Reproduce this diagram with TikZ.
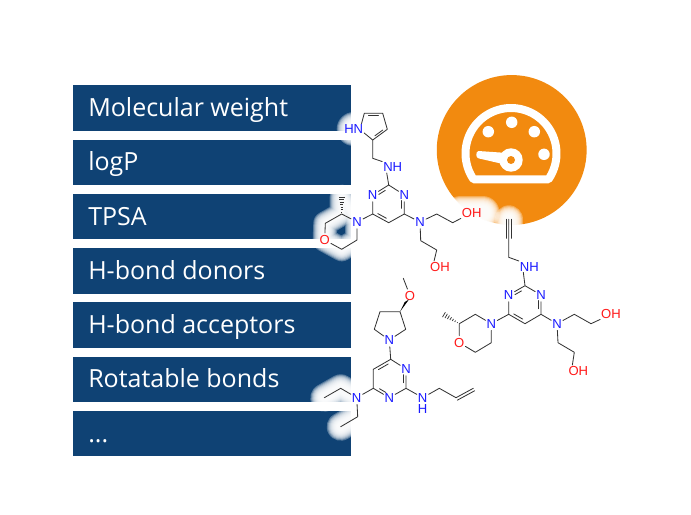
\documentclass[tikz,border=0pt]{standalone}
\usepackage{fontspec}
\usetikzlibrary{calc}
\newfontfamily\opensans{Open Sans}
\newfontfamily\atomfont{Liberation Sans}
\definecolor{boxblue}{HTML}{0F4274}
\definecolor{gaugeorange}{HTML}{F28A0F}
\definecolor{atomblue}{HTML}{1A1AFF}
\definecolor{atomred}{HTML}{FF1A1A}
\definecolor{bondgrey}{HTML}{333333}
\pgfdeclarelayer{bg}\pgfdeclarelayer{halo}
\pgfsetlayers{bg,halo,main}
\tikzset{
  x=0.75pt,y=-0.75pt,
  prop/.style={fill=boxblue,draw=none,minimum width=208.5pt,inner sep=0pt,anchor=north west},
  proplabel/.style={text=white,anchor=base west,inner sep=0pt,font=\opensans\fontsize{18.75}{20}\selectfont},
  atomN/.style={circle,inner sep=0pt,minimum size=7pt,text=atomblue,font=\atomfont\fontsize{9.8}{10}\selectfont},
  atomO/.style={atomN,text=atomred},
  group/.style={rectangle,inner sep=0.6pt,text height=7pt,text depth=0pt,font=\atomfont\fontsize{9.8}{10}\selectfont},
  bond/.style={draw=bondgrey,line width=0.62pt,line cap=round,line join=round},
  inner bond/.style={bond,shorten <=#1,shorten >=#1},
  inner bond/.default=2pt,
}
\newcommand{\halopath}[2][0]{\begin{pgfonlayer}{halo}\foreach \lw in {8,10,...,28}{\draw[white,opacity=.3,line width=(\lw+#1)*0.75pt,line cap=round,line join=round] #2;}\end{pgfonlayer}}
\newcommand{\dbl}[4][2pt]{\draw[inner bond=#1] ($(#2)!.17!(#4)$) -- ($(#3)!.17!(#4)$);}
\newcommand{\hashed}[2]{\foreach \hf/\hw in {.12/.3,.26/.6,.4/.9,.54/1.2,.68/1.5,.82/1.8,.96/2.1}{\coordinate (hp) at ($(#1)!\hf!(#2)$);\draw[draw=bondgrey,line width=.55pt] ($(hp)!\hw pt!90:(#2)$) -- ($(hp)!\hw pt!-90:(#2)$);}}
\begin{document}
\begin{tikzpicture}
\useasboundingbox (0,0) rectangle (691,514);
\begin{pgfonlayer}{bg}
\fill[white] (0,0) rectangle (691,514);
\node[prop,minimum height=34.5pt] (b1) at (73,85) {};
\node[prop,minimum height=33.75pt] (b2) at (73,140) {};
\node[prop,minimum height=33.75pt] (b3) at (73,194) {};
\node[prop,minimum height=34.5pt] (b4) at (73,248) {};
\node[prop,minimum height=34.5pt] (b5) at (73,302) {};
\node[prop,minimum height=33.75pt] (b6) at (73,357) {};
\node[prop,minimum height=33.75pt] (b7) at (73,411) {};
% gauge
\fill[gaugeorange] (511.7,150) circle[radius=56.2pt];
\draw[white,line width=6pt,line join=round] plot[domain=145.5:394.5,samples=70] ({511+45.5*cos(\x)},{153.5+45.5*sin(\x)}) -- cycle;
\fill[white] (511.7,122.3) circle[radius=4.3pt] (488.3,131.7) circle[radius=4.3pt] (534.3,131.7) circle[radius=4.3pt] (544,154.3) circle[radius=4.3pt];
\fill[white,line join=round] (478.3,151) -- (503,152.7) -- (503,164) -- (478.3,158.3) to[bend left=70] cycle;
\fill[white] (511,160) circle[radius=8.8pt];
\fill[gaugeorange] (511,160) circle[radius=3pt];
\end{pgfonlayer}
\node[proplabel] (t1) at (88,116) {Molecular weight};
\node[proplabel] (t2) at (88,170) {logP};
\node[proplabel] (t3) at (88,225) {TPSA};
\node[proplabel] (t4) at (88,279) {H-bond donors};
\node[proplabel] (t5) at (88,333) {H-bond acceptors};
\node[proplabel] (t6) at (88,387) {Rotatable bonds};
\node[proplabel] (t7) at (88,442) {...};
% ---------- molecule 1
\coordinate (a1) at (364.3,113.3); \coordinate (a2) at (382.7,113.3);
\coordinate (a3) at (387.3,129.3); \coordinate (a4) at (372.7,140);
\coordinate (a5) at (372.7,158.3); \coordinate (ar) at (373,124.5);
\coordinate (a6) at (388.7,185); \coordinate (a7) at (372.7,214);
\coordinate (a8) at (388.7,222.7); \coordinate (a9) at (404.3,214);
\coordinate (ac) at (388.7,204);
\coordinate (a10) at (436.7,214); \coordinate (a11) at (452.7,222.7);
\coordinate (a12) at (420.7,240.7); \coordinate (a13) at (436.7,250);
\coordinate (a14) at (341.7,214); \coordinate (a15) at (341.7,196.7);
\coordinate (a16) at (325.3,223.3); \coordinate (a17) at (341.7,249.3);
\coordinate (a18) at (357,240);
\node[group,text=atomblue] (ahn) at (353.7,129.3) {HN};
\node[group,text=atomblue] (anh) at (392.7,167.3) {NH};
\node[atomN] (an1) at (372.7,195) {N};
\node[atomN] (an2) at (404.3,195) {N};
\node[atomN] (an3) at (420,222) {N};
\node[atomN] (an4) at (357,222) {N};
\node[atomO] (ao1) at (324.7,240) {O};
\node[group,text=atomred] (aoh1) at (471.7,212.7) {OH};
\node[group,text=atomred] (aoh2) at (440,266.7) {OH};
\draw[bond] ([xshift=-2pt]ahn.north east) -- (a1) -- (a2) -- (a3) -- (a4) -- ([yshift=1.5pt]ahn.south east);
\dbl{a1}{a2}{ar} \dbl{a3}{a4}{ar}
\draw[bond] (a4) -- (a5) -- (anh.north west);
\draw[bond] ([xshift=3.4pt]anh.south west) -- (a6) -- (an1);
\draw[bond] (a6) -- (an2) -- (a9) -- (a8) -- (a7) -- (an1);
\dbl[3pt]{a6}{an1}{ac} \dbl[3pt]{an2}{a9}{ac} \dbl{a7}{a8}{ac}
\draw[bond] (a9) -- (an3) -- (a10) -- (a11) -- (aoh1.south west);
\draw[bond] (an3) -- (a12) -- (a13) -- ([xshift=3.7pt]aoh2.north west);
\draw[bond] (a7) -- (an4) -- (a14) -- (a16) -- (ao1) -- (a17) -- (a18) -- (an4);
\hashed{a14}{a15}
\halopath[6]{(ahn.center) -- ++(5,0)}
\halopath[-4]{(a15) -- (a14) -- (a16) -- (ao1.center) -- (a17) -- (a18) -- (an4.center) -- cycle}
\halopath[6]{(aoh1.west) -- (aoh1.east)}
% ---------- molecule 2
\coordinate (b1a) at (508.7,219.3); \coordinate (b2a) at (508.7,238.3);
\coordinate (b3a) at (508.7,257.3); \coordinate (b4a) at (525,285.7);
\coordinate (b5a) at (508.7,314.3); \coordinate (b6a) at (525,323.7);
\coordinate (b7a) at (541,314.3); \coordinate (bc) at (525,304.5);
\coordinate (b8a) at (574.3,314.3); \coordinate (b9a) at (591,323.7);
\coordinate (b10a) at (558,342.7); \coordinate (b11a) at (574.3,352.3);
\coordinate (b12a) at (475.3,314.3); \coordinate (b13a) at (459.3,323.7);
\coordinate (b14a) at (443.3,314.3); \coordinate (b15a) at (475.3,352.3);
\coordinate (b16a) at (491.3,342.7);
\node[group,text=atomblue] (bnh) at (529.3,266.7) {NH};
\node[atomN] (bn1) at (508.7,295) {N};
\node[atomN] (bn2) at (541,295) {N};
\node[atomN] (bn3) at (557,323.7) {N};
\node[atomN] (bn4) at (491.3,323.7) {N};
\node[atomO] (bo1) at (459.3,342.7) {O};
\node[group,text=atomred] (boh1) at (611,313.7) {OH};
\node[group,text=atomred] (boh2) at (578.3,370.7) {OH};
\draw[bond] (b1a) -- (b2a) -- (b3a) -- (bnh.north west);
\draw[bond] ([xshift=-2pt]b1a) -- ([xshift=-2pt]b2a);
\draw[bond] ([xshift=2pt]b1a) -- ([xshift=2pt]b2a);
\draw[bond] ([xshift=3.4pt]bnh.south west) -- (b4a) -- (bn1) -- (b5a) -- (b6a) -- (b7a) -- (bn2) -- (b4a);
\dbl[3pt]{b4a}{bn1}{bc} \dbl[3pt]{bn2}{b7a}{bc} \dbl{b5a}{b6a}{bc}
\draw[bond] (b7a) -- (bn3) -- (b8a) -- (b9a) -- (boh1.south west);
\draw[bond] (bn3) -- (b10a) -- (b11a) -- ([xshift=3.7pt]boh2.north west);
\draw[bond] (b5a) -- (bn4) -- (b12a) -- (b13a) -- (bo1) -- (b15a) -- (b16a) -- (bn4);
\hashed{b13a}{b14a}
\halopath{(b1a) -- ++(0,4)}
% ---------- molecule 3
\coordinate (c1) at (403.3,278.3); \coordinate (c2) at (400,311.7);
\coordinate (c2w) at (406.7,300.7);
\coordinate (c3) at (380,311.7); \coordinate (c4) at (374.3,329.3);
\coordinate (c5) at (405.7,329.3); \coordinate (c6) at (390.7,359.3);
\coordinate (c7) at (373.3,369.3); \coordinate (c8) at (373.3,388.3);
\coordinate (c9) at (406,388.3); \coordinate (cc) at (389.7,379);
\coordinate (c10) at (439.3,388.3); \coordinate (c11) at (456,397.7);
\coordinate (c12) at (473.3,388.3);
\coordinate (c13) at (340.7,388.3); \coordinate (c14) at (324.3,397.7);
\coordinate (c15) at (357.7,416.7); \coordinate (c16) at (340.7,426.7);
\node[atomO] (co) at (410,295.7) {O};
\node[atomN] (cn1) at (389.3,340) {N};
\node[atomN] (cn2) at (406,369) {N};
\node[atomN] (cn3) at (389.3,397.7) {N};
\node[atomN] (cn4) at (422.7,397.7) {N};
\node[atomN] (ch) at (422.7,409.3) {H};
\node[atomN] (cn5) at (356.7,397.7) {N};
\draw[bond] (c1) -- (co);
\fill[black] (c2) -- ([xshift=1.7pt,yshift=.9pt]c2w) -- ([xshift=-1.5pt,yshift=-1pt]c2w) -- cycle;
\draw[bond] (c2) -- (c3) -- (c4) -- (cn1) -- (c5) -- (c2);
\draw[bond] (cn1) -- (c6) -- (c7) -- (c8) -- (cn3) -- (c9) -- (cn2) -- (c6);
\dbl{c6}{c7}{cc} \dbl[3pt]{c8}{cn3}{cc} \dbl[3pt]{c9}{cn2}{cc}
\draw[bond] (c9) -- (cn4) -- (c10) -- (c11) -- (c12);
\coordinate (c11b) at ($(c11)!2.1pt!-90:(c12)$);
\coordinate (c12b) at ($(c12)!2.1pt!90:(c11)$);
\draw[bond] (c11b) -- (c12b);
\draw[bond] (c8) -- (cn5) -- (c13) -- (c14);
\draw[bond] (cn5) -- (c15) -- (c16);
\halopath{(c14) -- (c13) -- (cn5.center)}
\halopath{(c16) -- (c15)}
\end{tikzpicture}
\end{document}
